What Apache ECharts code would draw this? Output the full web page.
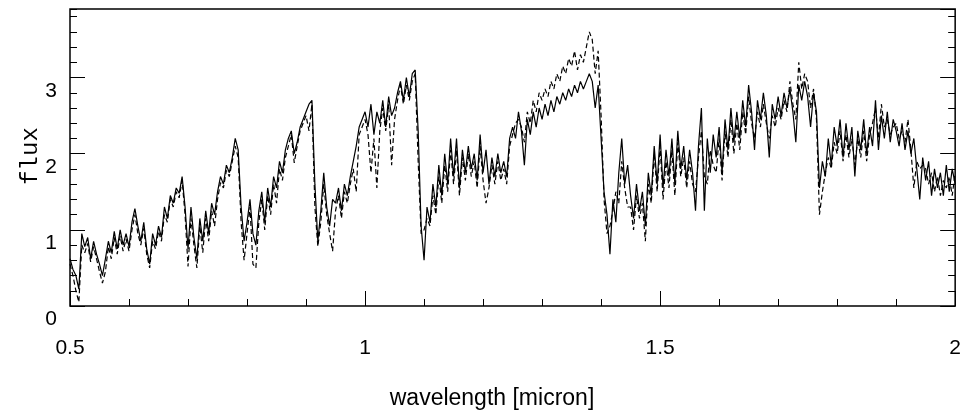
<!DOCTYPE html>
<html>
<head>
<meta charset="utf-8">
<script src="https://cdn.jsdelivr.net/npm/echarts@6/dist/echarts.min.js"></script>
<style>
html,body{margin:0;padding:0;background:#fff;}
#chart{width:964px;height:412px;}
</style>
</head>
<body>
<div id="chart"></div>
<script>
// wavelength grid [micron]
const wavelength = [
0.500,0.505,0.510,0.515,0.520,0.525,0.530,0.535,0.540,0.545,
0.550,0.555,0.560,0.565,0.570,0.575,0.580,0.585,0.590,0.595,
0.600,0.605,0.610,0.615,0.620,0.625,0.630,0.635,0.640,0.645,
0.650,0.655,0.660,0.665,0.670,0.675,0.680,0.685,0.690,0.695,
0.700,0.705,0.710,0.715,0.720,0.725,0.730,0.735,0.740,0.745,
0.750,0.755,0.760,0.765,0.770,0.775,0.780,0.785,0.790,0.795,
0.800,0.805,0.810,0.815,0.820,0.825,0.830,0.835,0.840,0.845,
0.850,0.855,0.860,0.865,0.870,0.875,0.880,0.885,0.890,0.895,
0.900,0.905,0.910,0.915,0.920,0.925,0.930,0.935,0.940,0.945,
0.950,0.955,0.960,0.965,0.970,0.975,0.980,0.985,0.990,0.995,
1.000,1.005,1.010,1.015,1.020,1.025,1.030,1.035,1.040,1.045,
1.050,1.055,1.060,1.065,1.070,1.075,1.080,1.085,1.090,1.095,
1.100,1.105,1.110,1.115,1.120,1.125,1.130,1.135,1.140,1.145,
1.150,1.155,1.160,1.165,1.170,1.175,1.180,1.185,1.190,1.195,
1.200,1.205,1.210,1.215,1.220,1.225,1.230,1.235,1.240,1.245,
1.250,1.255,1.260,1.265,1.270,1.275,1.280,1.285,1.290,1.295,
1.300,1.305,1.310,1.315,1.320,1.325,1.330,1.335,1.340,1.345,
1.350,1.355,1.360,1.365,1.370,1.375,1.380,1.385,1.390,1.395,
1.400,1.405,1.410,1.415,1.420,1.425,1.430,1.435,1.440,1.445,
1.450,1.455,1.460,1.465,1.470,1.475,1.480,1.485,1.490,1.495,
1.500,1.505,1.510,1.515,1.520,1.525,1.530,1.535,1.540,1.545,
1.550,1.555,1.560,1.565,1.570,1.575,1.580,1.585,1.590,1.595,
1.600,1.605,1.610,1.615,1.620,1.625,1.630,1.635,1.640,1.645,
1.650,1.655,1.660,1.665,1.670,1.675,1.680,1.685,1.690,1.695,
1.700,1.705,1.710,1.715,1.720,1.725,1.730,1.735,1.740,1.745,
1.750,1.755,1.760,1.765,1.770,1.775,1.780,1.785,1.790,1.795,
1.800,1.805,1.810,1.815,1.820,1.825,1.830,1.835,1.840,1.845,
1.850,1.855,1.860,1.865,1.870,1.875,1.880,1.885,1.890,1.895,
1.900,1.905,1.910,1.915,1.920,1.925,1.930,1.935,1.940,1.945,
1.950,1.955,1.960,1.965,1.970,1.975,1.980,1.985,1.990,1.995,
2.000
];

// flux, solid spectrum
const fluxSolid = [
0.62,0.48,0.40,0.22,0.95,0.78,0.90,0.62,0.85,0.68,
0.55,0.40,0.62,0.85,0.70,0.98,0.75,1.00,0.80,0.95,
0.78,1.10,1.28,1.05,0.85,1.10,0.75,0.55,0.95,0.80,
1.05,0.90,1.30,1.15,1.45,1.35,1.55,1.48,1.70,1.30,
0.75,1.30,0.90,0.62,1.15,0.85,1.25,0.95,1.35,1.20,
1.50,1.70,1.60,1.85,1.75,1.95,2.20,2.05,1.30,0.85,
1.10,1.40,0.95,0.80,1.25,1.50,1.10,1.55,1.30,1.70,
1.55,1.90,1.75,2.05,2.20,2.30,2.00,2.15,2.35,2.45,
2.55,2.65,2.70,1.60,0.85,1.25,1.75,1.30,1.05,1.40,
1.35,1.55,1.25,1.60,1.45,1.70,1.90,2.10,2.35,2.45,
2.55,2.35,2.65,2.25,2.55,2.40,2.70,2.35,2.75,2.50,
2.60,2.80,2.95,2.70,3.00,2.75,3.05,3.10,2.30,1.05,
0.60,1.30,1.10,1.60,1.30,1.85,1.45,2.00,1.60,2.20,
1.70,2.20,1.55,2.05,1.75,2.10,1.80,2.00,1.65,2.25,
1.75,2.05,1.60,1.95,1.70,2.00,1.75,1.90,1.70,2.20,
2.35,2.20,2.55,2.30,1.85,2.45,2.25,2.55,2.35,2.60,
2.45,2.65,2.50,2.70,2.55,2.75,2.65,2.80,2.70,2.85,
2.75,2.90,2.80,2.95,2.85,2.95,3.05,2.95,2.60,2.90,
2.20,1.50,1.20,0.68,1.40,1.10,1.75,2.20,1.60,1.85,
1.45,1.15,1.60,1.25,1.50,1.05,1.75,1.45,2.10,1.60,
2.25,1.55,2.05,1.70,2.20,1.60,2.30,1.80,2.10,1.65,
2.05,1.75,1.25,2.10,2.60,1.25,2.20,1.75,2.25,1.95,
2.35,1.75,2.45,2.05,2.60,2.15,2.55,2.20,2.70,2.35,
2.90,2.55,2.05,2.70,2.45,2.80,2.50,1.95,2.65,2.45,
2.75,2.50,2.80,2.60,2.85,2.55,2.15,2.90,2.70,2.95,
2.75,2.35,2.80,2.55,1.55,1.90,1.70,2.20,1.85,2.35,
2.10,2.45,1.95,2.40,2.05,2.35,1.70,2.30,2.05,2.45,
2.00,2.35,2.10,2.70,2.05,2.50,2.20,2.55,2.15,2.45,
2.30,2.10,2.40,2.05,2.30,2.00,2.20,1.80,1.40,1.95,
1.65,1.90,1.45,1.80,1.55,1.75,1.45,1.85,1.50,1.80,
1.60
];

// flux, dashed spectrum
const fluxDashed = [
0.55,0.40,0.20,0.05,0.80,0.70,0.82,0.58,0.78,0.62,
0.45,0.30,0.45,0.78,0.62,0.90,0.68,0.92,0.72,0.88,
0.72,1.00,1.20,0.95,0.80,1.02,0.68,0.50,0.85,0.75,
0.98,0.85,1.20,1.10,1.40,1.30,1.50,1.42,1.65,1.20,
0.52,1.15,0.80,0.50,1.05,0.70,1.15,0.85,1.25,1.05,
1.40,1.62,1.55,1.78,1.70,1.90,2.10,1.95,1.10,0.60,
0.95,1.30,0.55,0.50,1.10,1.40,1.00,1.45,1.20,1.60,
1.35,1.80,1.65,1.95,2.10,2.25,1.88,2.10,2.30,2.40,
2.50,2.30,2.65,1.30,0.78,1.10,1.60,1.20,0.95,0.72,
1.25,1.45,1.15,1.50,1.35,1.60,1.80,1.50,2.25,2.35,
2.45,2.25,1.75,2.20,1.55,2.30,2.60,2.30,2.65,1.85,
2.45,2.70,2.90,2.65,2.90,2.70,2.95,3.05,1.90,0.95,
1.00,1.15,1.05,1.45,1.20,1.70,1.35,1.85,1.50,2.05,
1.60,2.05,1.45,1.95,1.65,2.00,1.70,1.90,1.55,2.10,
1.65,1.35,1.55,1.85,1.60,1.90,1.65,1.80,1.60,2.10,
2.25,2.40,2.45,2.35,2.15,2.55,2.40,2.70,2.55,2.80,
2.70,2.85,2.75,2.95,2.85,3.05,2.95,3.15,3.05,3.25,
3.15,3.35,3.10,3.30,3.20,3.40,3.60,3.50,3.05,3.35,
2.50,1.40,0.95,1.05,1.25,1.50,1.35,1.90,1.55,1.30,
1.30,1.00,1.45,1.15,1.35,0.85,1.60,1.35,2.00,1.50,
2.10,1.40,1.90,1.55,2.05,1.45,2.15,1.70,1.95,1.55,
1.90,1.60,1.50,1.95,2.30,1.70,1.60,2.05,1.85,1.75,
2.20,1.65,2.30,1.95,2.45,2.00,2.40,2.05,2.55,2.25,
2.75,2.40,2.20,2.55,2.35,2.65,2.40,2.20,2.50,2.35,
2.60,2.45,2.70,2.55,2.95,2.65,2.45,3.20,2.85,3.05,
2.95,2.60,2.85,2.45,1.20,1.50,1.75,1.95,1.80,2.15,
2.00,2.30,1.90,2.25,1.95,2.20,1.85,2.20,1.95,2.30,
1.90,2.25,2.40,2.60,2.20,2.65,2.35,2.45,2.25,2.35,
2.40,2.20,2.30,2.15,2.45,2.05,1.55,1.90,1.80,1.85,
1.80,1.60,1.75,1.50,1.70,1.45,1.65,1.55,1.70,1.45,
1.75
];

const xLabel = 'wavelength [micron]';
const yLabel = 'flux';

const solidPairs = wavelength.map((w, i) => [w, fluxSolid[i]]);
const dashedPairs = wavelength.map((w, i) => [w, fluxDashed[i]]);

const tickFont = { fontFamily: '"Liberation Sans", Arial, sans-serif', fontSize: 21, color: '#000' };

function xAx(interval, len, labels) {
  return {
    type: 'value', position: 'bottom', min: 0.5, max: 2.0, interval: interval,
    axisLine: { show: false },
    axisTick: { show: true, inside: true, length: len, lineStyle: { color: '#000', width: 1 } },
    axisLabel: labels ? Object.assign({ show: true, margin: 32, verticalAlign: 'top',
      formatter: v => String(Math.round(v * 10) / 10) }, tickFont) : { show: false },
    splitLine: { show: false }
  };
}
function yAx(pos, interval, len, labels) {
  return {
    type: 'value', position: pos, min: 0, max: 3.9, interval: interval,
    axisLine: { show: false },
    axisTick: { show: true, inside: true, length: len, lineStyle: { color: '#000', width: 1 } },
    axisLabel: labels ? Object.assign({ show: true, margin: 13, verticalAlign: 'top', lineHeight: 27, showMaxLabel: false,
      formatter: v => (Math.abs(v - Math.round(v)) < 1e-6 ? String(Math.round(v)) : '') }, tickFont) : { show: false },
    splitLine: { show: false }
  };
}

const chart = echarts.init(document.getElementById('chart'), null, { renderer: 'canvas' });
chart.setOption({
  animation: false,
  backgroundColor: '#fff',
  grid: { left: 70, right: 7, top: 9, bottom: 106, show: true, borderColor: '#000', borderWidth: 1.5, backgroundColor: 'transparent' },
  xAxis: [xAx(0.5, 15, true), xAx(0.1, 7, false)],
  yAxis: [yAx('left', 1, 15, true), yAx('left', 0.2, 7, false), yAx('right', 1, 15, false), yAx('right', 0.2, 7, false)],
  series: [
    { type: 'line', name: 'solid', data: solidPairs, xAxisIndex: 0, yAxisIndex: 0, showSymbol: false, symbol: 'none',
      lineStyle: { color: '#000', width: 1.2, type: 'solid' }, clip: true },
    { type: 'line', name: 'dashed', data: dashedPairs, xAxisIndex: 0, yAxisIndex: 0, showSymbol: false, symbol: 'none',
      lineStyle: { color: '#000', width: 1.2, type: [5, 3] }, clip: true }
  ],
  graphic: [
    { type: 'text', x: 492, y: 399, style: { text: xLabel, font: '23px "Liberation Sans", Arial, sans-serif', fill: '#000', align: 'center', verticalAlign: 'middle' } },
    { type: 'text', x: 31, y: 156, rotation: Math.PI / 2, style: { text: yLabel, font: '24px "Liberation Mono", "Courier New", monospace', fill: '#000', align: 'center', verticalAlign: 'middle' } }
  ]
});
</script>
</body>
</html>
